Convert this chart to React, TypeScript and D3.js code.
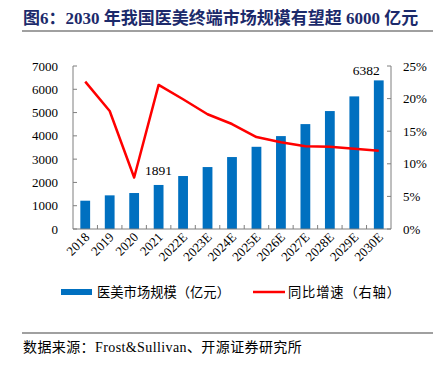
import React from 'react';
import * as d3 from 'd3';

const years = ['2018', '2019', '2020', '2021', '2022E', '2023E', '2024E', '2025E', '2026E', '2027E', '2028E', '2029E', '2030E'];
const marketSize = [1215, 1445, 1545, 1891, 2275, 2660, 3090, 3530, 3990, 4505, 5065, 5695, 6382];
const growth = [22.6, 18.1, 7.9, 22.1, 19.9, 17.6, 16.1, 14.1, 13.3, 12.7, 12.6, 12.3, 12.0];
const leftTicks = [0, 1000, 2000, 3000, 4000, 5000, 6000, 7000];
const rightTicks = [0, 5, 10, 15, 20, 25];
const labelled = ['2021', '2030E'];

const serif = '"Liberation Serif", "Times New Roman", "Noto Sans CJK SC", serif';
const axisColor = '#7f7f7f';

const App = () => {
    const width = 446, height = 367;
    const left = 73, right = 391, top = 66, bottom = 229;

    const x = d3.scaleBand<string>().domain(years).range([left, right]);
    const yL = d3.scaleLinear().domain([0, 7000]).range([bottom, top]);
    const yR = d3.scaleLinear().domain([0, 25]).range([bottom, top]);
    const bw = x.bandwidth() * 0.4;
    const cx = (d: string) => (x(d) as number) + x.bandwidth() / 2;

    const line = d3.line<number>()
        .x((d, i) => cx(years[i]))
        .y(d => yR(d));

    return (
        <svg width={width} height={height} style={{ position: 'absolute', left: 0, top: 0 }}>
            {/* title */}
            <text x={23} y={24} fontFamily={serif} fontSize={17} fontWeight="bold" fill="#1c2a6b">
                图6：2030 年我国医美终端市场规模有望超 6000 亿元
            </text>
            <line x1={22} x2={433} y1={31} y2={31} stroke="#808080" strokeWidth={1.5} />

            {/* bars */}
            {years.map((d, i) => (
                <rect key={d} x={cx(d) - bw / 2} y={yL(marketSize[i])} width={bw}
                    height={bottom - yL(marketSize[i])} fill="#0070c0" />
            ))}

            {/* axes */}
            <line x1={left} x2={left} y1={top} y2={bottom} stroke={axisColor} />
            <line x1={right} x2={right} y1={top} y2={bottom} stroke={axisColor} />
            <line x1={left} x2={right} y1={bottom} y2={bottom} stroke={axisColor} />
            {leftTicks.map(t => (
                <g key={'l' + t}>
                    <line x1={left} x2={left + 4} y1={yL(t)} y2={yL(t)} stroke={axisColor} />
                    <text x={left - 15} y={yL(t)} dy="0.35em" textAnchor="end" fontFamily={serif} fontSize={13}>{t}</text>
                </g>
            ))}
            {rightTicks.map(t => (
                <g key={'r' + t}>
                    <line x1={right - 4} x2={right} y1={yR(t)} y2={yR(t)} stroke={axisColor} />
                    <text x={right + 12} y={yR(t)} dy="0.35em" fontFamily={serif} fontSize={13}>{t}%</text>
                </g>
            ))}
            {years.slice(1).map(d => (
                <line key={'t' + d} x1={x(d)} x2={x(d)} y1={bottom} y2={bottom - 4} stroke={axisColor} />
            ))}
            {years.map(d => (
                <text key={'x' + d} transform={`translate(${cx(d) + 5},${bottom + 9}) rotate(-45)`}
                    textAnchor="end" fontFamily={serif} fontSize={13}>{d}</text>
            ))}

            {/* growth line */}
            <path d={line(growth) || ''} fill="none" stroke="#ff0000" strokeWidth={2.5} strokeLinejoin="round" />

            {/* value labels */}
            {labelled.map(d => {
                const i = years.indexOf(d);
                const last = i === years.length - 1;
                return (
                    <text key={'v' + d} x={last ? cx(d) + 1 : cx(d)} y={last ? yL(marketSize[i]) - 5 : yL(marketSize[i]) - 10}
                        textAnchor={last ? 'end' : 'middle'} fontFamily={serif} fontSize={13.5}>{marketSize[i]}</text>
                );
            })}

            {/* legend */}
            <rect x={61} y={289} width={31} height={6} fill="#0070c0" />
            <text x={97} y={292} dy="0.35em" fontFamily={serif} fontSize={13.3}>医美市场规模（亿元）</text>
            <line x1={253} x2={285} y1={292} y2={292} stroke="#ff0000" strokeWidth={2.5} />
            <text x={288} y={292} dy="0.35em" fontFamily={serif} fontSize={13.3} letterSpacing={0.8}>同比增速（右轴）</text>

            {/* source */}
            <line x1={22} x2={433} y1={333} y2={333} stroke="#808080" strokeWidth={1.5} />
            <text x={23} y={347} dy="0.35em" fontFamily={serif} fontSize={14} letterSpacing={0.4}>数据来源：Frost&amp;Sullivan、开源证券研究所</text>
        </svg>
    );
};

export default App;
